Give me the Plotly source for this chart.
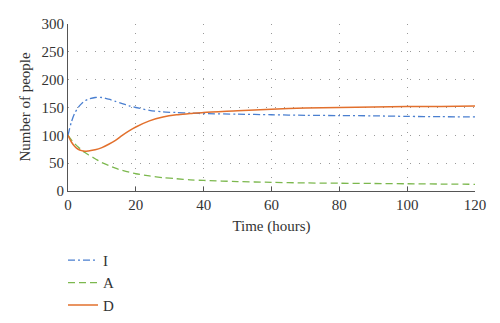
import plotly.graph_objects as go

# Time samples (hours) and population curves for each compartment
t = [0, 1, 2, 3, 4, 5, 6, 8, 10, 12, 14, 16, 18, 20, 24, 28, 32, 36, 40,
     50, 60, 70, 80, 90, 100, 110, 120]
I_vals = [100, 124, 140, 150, 157, 162, 165, 168, 168, 165, 161, 157, 153, 150,
          145, 142, 141, 140, 139, 138, 137, 136, 135.5, 135, 134, 133.5, 133]
A_vals = [100, 92, 85, 79, 74, 69, 65, 58, 51, 46, 41, 37, 34, 31,
          27, 24, 22, 20, 19, 17, 15.5, 14.5, 14, 13.5, 13, 12.5, 12]
D_vals = [100, 88, 80, 75, 72.5, 71.5, 72, 74, 78, 84, 91, 100, 108, 115,
          126, 133, 137, 139, 141, 144, 147, 149, 150, 151, 152, 152, 152.5]

x_ticks = [0, 20, 40, 60, 80, 100, 120]
y_ticks = [0, 50, 100, 150, 200, 250, 300]

font_family = "Liberation Serif"
grid_dash = "1px,8px"

fig = go.Figure()
fig.add_trace(go.Scatter(x=t, y=I_vals, name="I", mode="lines",
                         line=dict(color="#4a7fd0", width=1.3, dash="7px,3px,2px,3px",
                                   shape="spline", smoothing=0.8)))
fig.add_trace(go.Scatter(x=t, y=A_vals, name="A", mode="lines",
                         line=dict(color="#7cb84e", width=1.3, dash="7px,4px",
                                   shape="spline", smoothing=0.8)))
fig.add_trace(go.Scatter(x=t, y=D_vals, name="D", mode="lines",
                         line=dict(color="#e2702d", width=1.5,
                                   shape="spline", smoothing=0.8)))

fig.update_layout(
    width=500, height=323,
    margin=dict(l=68, r=25, t=24, b=132, autoexpand=False),
    paper_bgcolor="white", plot_bgcolor="white",
    font=dict(family=font_family, size=15, color="#333333"),
    showlegend=True,
    legend=dict(x=63 / 500, y=0.245, xref="container", yref="container",
                xanchor="left", yanchor="top",
                font=dict(family=font_family, size=15, color="#333333"),
                tracegroupgap=0, itemwidth=30, bgcolor="rgba(0,0,0,0)"),
)
# Vertical axis title placed as a rotated annotation left of the tick labels
fig.add_annotation(
    text="Number of people", textangle=-90,
    xref="paper", yref="paper", x=-44 / 407, y=0.5,
    xanchor="center", yanchor="middle", showarrow=False,
    font=dict(family=font_family, size=15, color="#333333"),
)
fig.update_xaxes(
    range=[0, 120], tickvals=x_ticks, showgrid=True,
    gridcolor="#999999", griddash=grid_dash, gridwidth=1,
    showline=True, linecolor="#555555", linewidth=1.2,
    ticks="inside", ticklen=4, tickcolor="#555555",
    zeroline=False, automargin=True,
    title=dict(text="Time (hours)", font=dict(size=15), standoff=8),
    tickfont=dict(size=15),
)
fig.update_yaxes(
    range=[0, 300], tickvals=y_ticks, showgrid=True,
    gridcolor="#999999", griddash=grid_dash, gridwidth=1,
    showline=True, linecolor="#555555", linewidth=1.2,
    ticks="", zeroline=False, automargin=True,
    tickfont=dict(size=15),
)

fig.write_html("out.html")
